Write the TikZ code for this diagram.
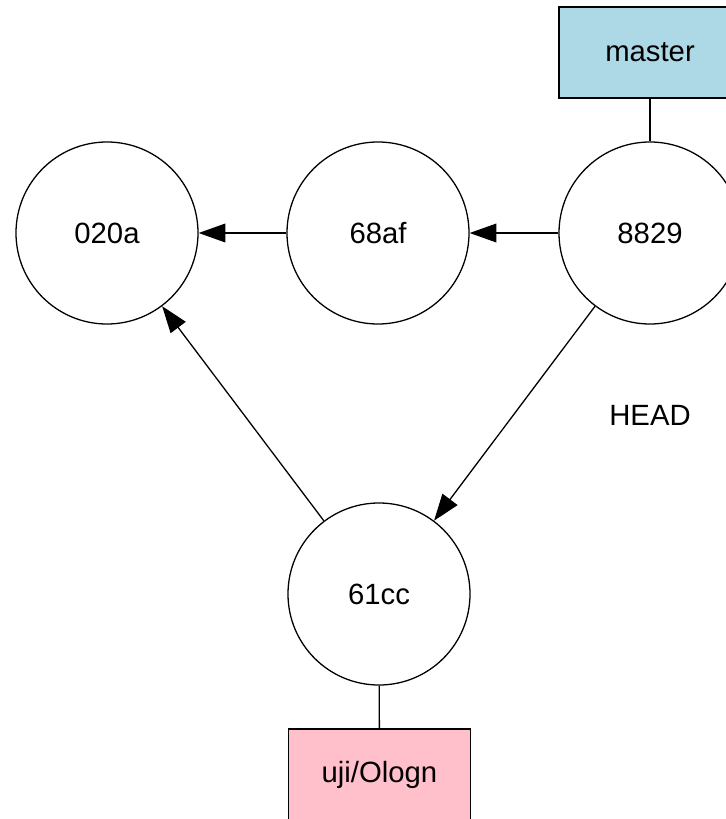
\documentclass[tikz,border=0pt]{standalone}
\usepackage{fontspec}
\setmainfont{Liberation Sans}
\usetikzlibrary{arrows.meta}

\begin{document}
\begin{tikzpicture}[x = 0.03cm, y = -0.03cm, -{Triangle[length = 0.8cm, width = 0.56cm]}, line width = 1.1pt,
commit/.style = { circle, draw, minimum size = 5.46cm, inner sep = 0pt, font = \fontsize{25}{30}\selectfont},
branch/.style = { rectangle, draw, minimum width = 5.46cm, minimum height = 2.73cm, inner sep = 0pt, font = \fontsize{25}{30}\selectfont},
ref/.style = { - }]
\useasboundingbox (0,0) rectangle (725,819);
\node[commit] (c020a) at (107,233) {020a};
\node[commit] (c68af) at (378,233) {68af};
\node[commit] (c8829) at (650,233) {8829};
\node[commit] (c61cc) at (379,594) {61cc};
\node[branch, fill = {rgb,255:red,173;green,216;blue,230}] (master) at (650,52.5) {master};
\node[branch, fill = {rgb,255:red,255;green,192;blue,203}] (login) at (379.5,774.5) {uji/Ologn};
\node[font = \fontsize{25}{30}\selectfont] (head) at (650,415) {HEAD};
\path (c8829) edge (c68af);
\path (c68af) edge (c020a);
\path (c8829) edge (c61cc);
\path (c61cc) edge (c020a);
\path[ref] (master) edge (c8829);
\path[ref] (c61cc) edge (login);
\end{tikzpicture}
\end{document}
